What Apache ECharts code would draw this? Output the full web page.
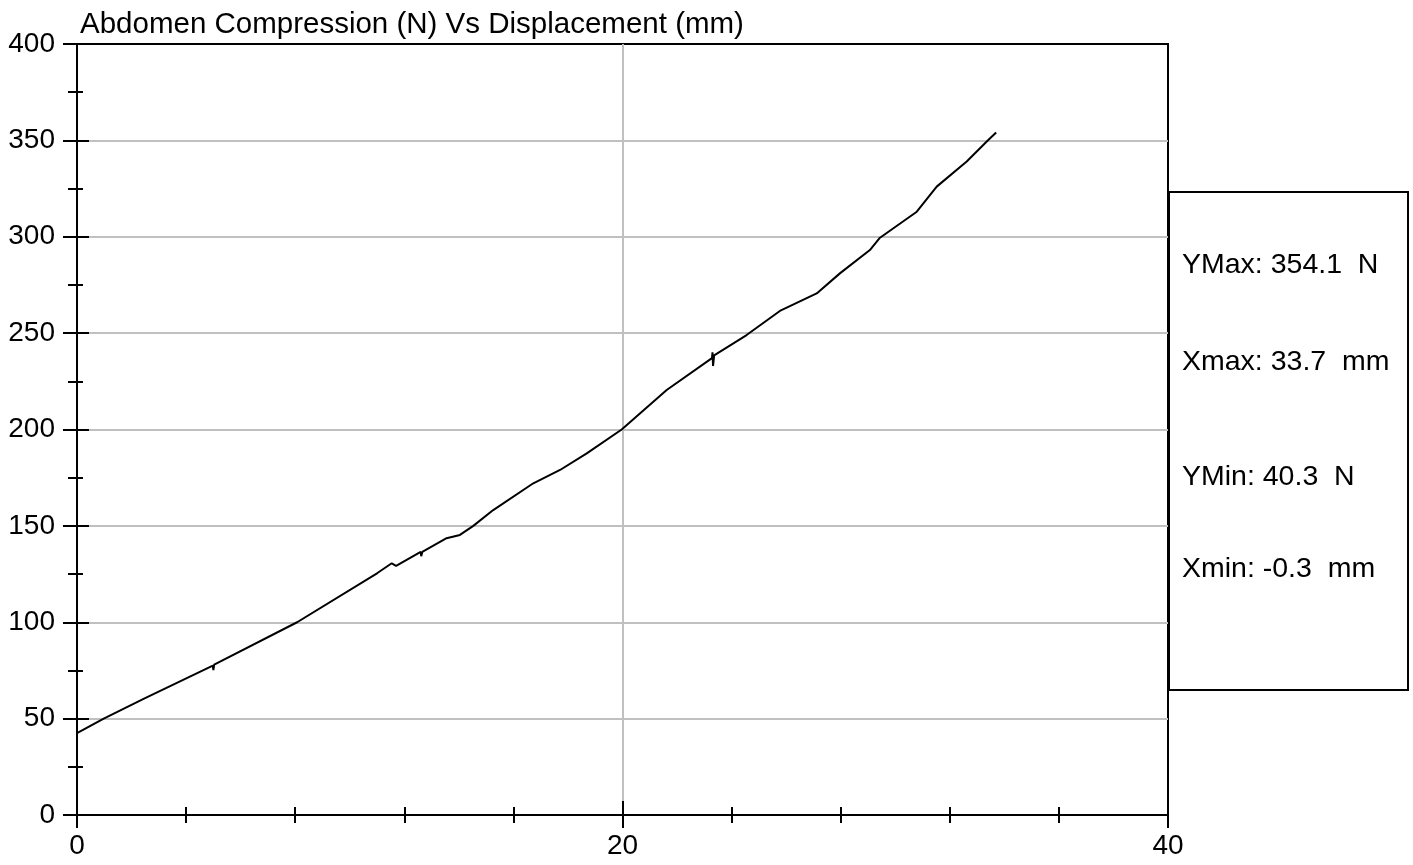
<!DOCTYPE html>
<html>
<head>
<meta charset="utf-8">
<script src="https://cdn.jsdelivr.net/npm/echarts@6/dist/echarts.min.js"></script>
<style>
  html, body { margin: 0; padding: 0; background: #fff; }
  #chart { width: 1413px; height: 865px; }
</style>
</head>
<body>
<div id="chart"></div>
<script>
// displacement (mm) and compression (N)
let dispMm = [-0.3, 0, 0.98, 2.44, 4.98, 5.0, 5.03, 8.07, 11.0, 11.54, 11.7, 12.6, 12.62, 12.66,
  13.55, 14.04, 14.53, 15.26, 16.73, 17.71, 18.69, 19.97, 21.62, 23.28, 23.30, 23.32, 23.36,
  24.55, 25.77, 27.12, 27.97, 29.07, 29.44, 30.79, 31.52, 32.62, 33.41, 33.7];
let forceN = [40.3, 42.5, 50, 60.2, 77.5, 75.2, 78, 100, 125.4, 130.6, 129.3, 136.5, 134.3, 136.5,
  143.6, 145.3, 150, 158.2, 172.1, 179, 187.6, 200, 220.5, 237, 240, 233, 238.5,
  249, 261.5, 270.6, 281, 293.1, 299.5, 313, 326, 339, 350.2, 354.1];

let statLines = ['YMax: 354.1  N', 'Xmax: 33.7  mm', 'YMin: 40.3  N', 'Xmin: -0.3  mm'];
let statY = [265, 362, 477, 569];

let font = 'Liberation Sans, Arial, sans-serif';
let gray = '#c0c0c0';

let myChart = echarts.init(document.getElementById('chart'));

let xBase = { type: 'value', min: 0, max: 40, interval: 20 };
let yBase = { type: 'value', min: 0, max: 400, interval: 50 };

let option = {
  animation: false,
  backgroundColor: '#fff',
  title: {
    text: 'Abdomen Compression (N) Vs Displacement (mm)',
    left: 75, top: 5,
    textStyle: { fontFamily: font, fontSize: 29.5, fontWeight: 'normal', color: '#000' }
  },
  grid: {
    left: 77, right: 245, top: 44, bottom: 50,
    show: true, borderColor: '#000', borderWidth: 2, backgroundColor: 'transparent'
  },
  xAxis: [
    Object.assign({}, xBase, {
      position: 'bottom',
      axisLine: { lineStyle: { color: '#000', width: 2 } },
      axisTick: { inside: false, length: 13, lineStyle: { color: '#000', width: 2 } },
      minorTick: { show: true, splitNumber: 5, length: 8, lineStyle: { color: '#000', width: 2 } },
      axisLabel: { fontFamily: font, fontSize: 28, color: '#000', margin: 17 },
      splitLine: { show: true, showMinLine: false, showMaxLine: false, lineStyle: { color: gray, width: 2 } }
    }),
    Object.assign({}, xBase, {
      position: 'bottom',
      axisLine: { lineStyle: { color: '#000', width: 2 } },
      axisTick: { inside: true, length: 14, lineStyle: { color: '#000', width: 2 } },
      minorTick: { show: true, splitNumber: 5, length: 8, lineStyle: { color: '#000', width: 2 } },
      axisLabel: { show: false },
      splitLine: { show: false }
    })
  ],
  yAxis: [
    Object.assign({}, yBase, {
      position: 'left',
      axisLine: { show: true, lineStyle: { color: '#000', width: 2 } },
      axisTick: { show: true, inside: false, length: 14, lineStyle: { color: '#000', width: 2 } },
      minorTick: { show: true, splitNumber: 2, length: 9, lineStyle: { color: '#000', width: 2 } },
      axisLabel: { fontFamily: font, fontSize: 28, color: '#000', margin: 22, padding: [5, 0, 0, 0] },
      splitLine: { show: true, showMinLine: false, showMaxLine: false, lineStyle: { color: gray, width: 2 } }
    }),
    Object.assign({}, yBase, {
      position: 'left',
      axisLine: { show: true, lineStyle: { color: '#000', width: 2 } },
      axisTick: { show: true, inside: true, length: 12, lineStyle: { color: '#000', width: 2 } },
      minorTick: { show: true, splitNumber: 2, length: 6, lineStyle: { color: '#000', width: 2 } },
      axisLabel: { show: false },
      splitLine: { show: false }
    })
  ],
  series: [{
    type: 'line',
    xAxisIndex: 0,
    yAxisIndex: 0,
    showSymbol: false,
    clip: true,
    lineStyle: { color: '#000', width: 2 },
    data: dispMm.map((x, i) => [x, forceN[i]])
  }],
  graphic: [{
    type: 'rect',
    shape: { x: 1169, y: 192, width: 239, height: 498 },
    style: { fill: '#fff', stroke: '#000', lineWidth: 2 },
    z: 10
  }].concat(statLines.map((t, i) => ({
    type: 'text',
    x: 1182, y: statY[i],
    style: { text: t, fontFamily: font, fontSize: 28.5, fill: '#000', textVerticalAlign: 'middle' },
    z: 11
  })))
};

myChart.setOption(option);
</script>
</body>
</html>
